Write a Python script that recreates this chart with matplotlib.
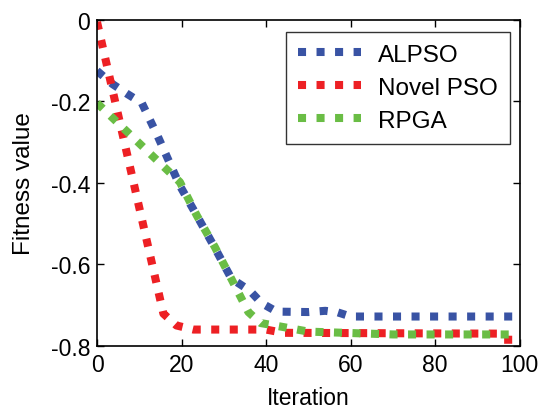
import matplotlib
matplotlib.use("Agg")
import matplotlib.pyplot as plt

plt.rcParams['font.family'] = ['Liberation Sans', 'DejaVu Sans']
plt.rcParams['axes.unicode_minus'] = False

# values
alpso_x = [0, 3.6, 7.2, 10.6, 14.3, 19.6, 23.6, 27.9, 31.8, 36.2, 38.9, 42.5, 50, 54, 57, 60, 100]
alpso_y = [-0.125, -0.157, -0.182, -0.204, -0.284, -0.407, -0.48, -0.56, -0.635, -0.665,
           -0.695, -0.716, -0.717, -0.714, -0.718, -0.728, -0.728]

novel_x = [0, 15.7, 18.8, 22.8, 40, 44, 95, 96, 100]
novel_y = [-0.005, -0.721, -0.75, -0.76, -0.76, -0.768, -0.77, -0.785, -0.785]

rpga_x = [0, 19.6, 23.6, 27.9, 31.8, 35.8, 38.7, 43.1, 50, 70, 100]
rpga_y = [-0.204, -0.398, -0.48, -0.558, -0.636, -0.717, -0.744, -0.752, -0.765, -0.772, -0.772]

xticks = [0, 20, 40, 60, 80, 100]
yticks = [0, -0.2, -0.4, -0.6, -0.8]
ytick_labels = ['0', '-0.2', '-0.4', '-0.6', '-0.8']

fig = plt.figure(figsize=(5.42, 4.10), dpi=100)
ax = fig.add_axes([0.179, 0.154, 0.780, 0.795])

dots = (0, (1, 1.3))
lw = 5.8
ax.plot(alpso_x, alpso_y, color='#3953A4', lw=lw, linestyle=dots, dash_capstyle='butt', label='ALPSO')
ax.plot(novel_x, novel_y, color='#ED2024', lw=lw, linestyle=dots, dash_capstyle='butt', label='Novel PSO')
ax.plot(rpga_x, rpga_y, color='#6ABD45', lw=lw, linestyle=dots, dash_capstyle='butt', label='RPGA')

ax.set_xlim(0, 100)
ax.set_ylim(-0.8, 0)
ax.set_xticks(xticks)
ax.set_yticks(yticks)
ax.set_yticklabels(ytick_labels)
ax.tick_params(direction='in', top=True, right=True, labelsize=16.5, length=5, width=1, pad=5)
for s in ax.spines.values():
    s.set_linewidth(1.2)

ax.set_xlabel('Iteration', fontsize=16.5, labelpad=7)
ax.set_ylabel('Fitness value', fontsize=17.5, labelpad=11)

leg = ax.legend(loc='upper right', bbox_to_anchor=(0.977, 0.964), fontsize=17.5, frameon=True,
                fancybox=False, edgecolor='black', handlelength=2.6, handletextpad=0.7,
                borderpad=0.5, labelspacing=0.45, borderaxespad=0)
leg.get_frame().set_linewidth(1.0)

fig.savefig('out.png', dpi=100)
